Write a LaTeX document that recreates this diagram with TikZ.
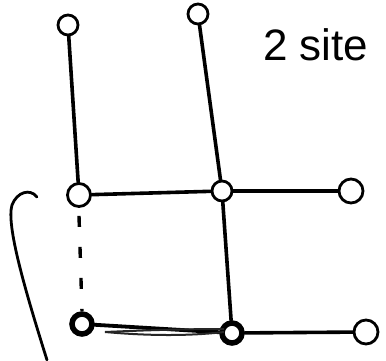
\documentclass[tikz,border=0pt]{standalone}
\usepackage{fontspec}
\setmainfont{Liberation Sans}
\begin{document}
\begin{tikzpicture}[x=1pt,y=-1pt,
  site/.style={circle,draw=black,line width=2.8pt,minimum size=20pt,inner sep=0pt},
  heavysite/.style={circle,draw=black,line width=5.5pt,minimum size=20pt,inner sep=0pt},
  bond/.style={draw=black,line width=3.6pt,line cap=round},
  weak/.style={draw=black,line width=3.4pt,dash pattern=on 11pt off 20pt}]
\useasboundingbox (0,0) rectangle (386,360);
\node[site] (t1) at (68,25) {};
\node[site] (t2) at (198,14) {};
\node[site,minimum size=23pt] (m1) at (79,195) {};
\node[site] (m2) at (222,191) {};
\node[site,minimum size=24pt] (m3) at (351,191) {};
\node[heavysite,minimum size=20pt] (b1) at (82,324) {};
\node[heavysite,minimum size=20pt] (b2) at (232,333) {};
\node[site,minimum size=24pt] (b3) at (366,332) {};
\draw[bond] (t1) -- (m1);
\draw[bond] (t2) -- (m2);
\draw[bond] (m1) -- (m2);
\draw[bond] (m2) -- (m3);
\draw[bond] (m2) -- (b2);
\draw[bond] (b2) -- (b3);
\draw[weak] (m1.south) ++(0,8) coordinate (d0) (b1.north) coordinate (d1);
\draw[weak] (d0) -- (d1);
\draw[bond,line width=3.8pt] (b1) -- (b2);
\draw[draw=black!85,line width=2pt] (105,332) .. controls (150,336) and (190,336) .. (224,332);
\draw[draw=black!85,line width=2pt] (105,332) .. controls (150,330) and (190,329) .. (224,329);
\node[inner sep=0pt,anchor=base west,font=\fontsize{44}{46}\selectfont] (title) at (263,60) {2 site};
\draw[draw=black,line width=2.8pt,line cap=round] (37,197) .. controls (30,188) and (17,192) .. (12,205)
  .. controls (6,225) and (25,290) .. (47,360);
\end{tikzpicture}
\end{document}
